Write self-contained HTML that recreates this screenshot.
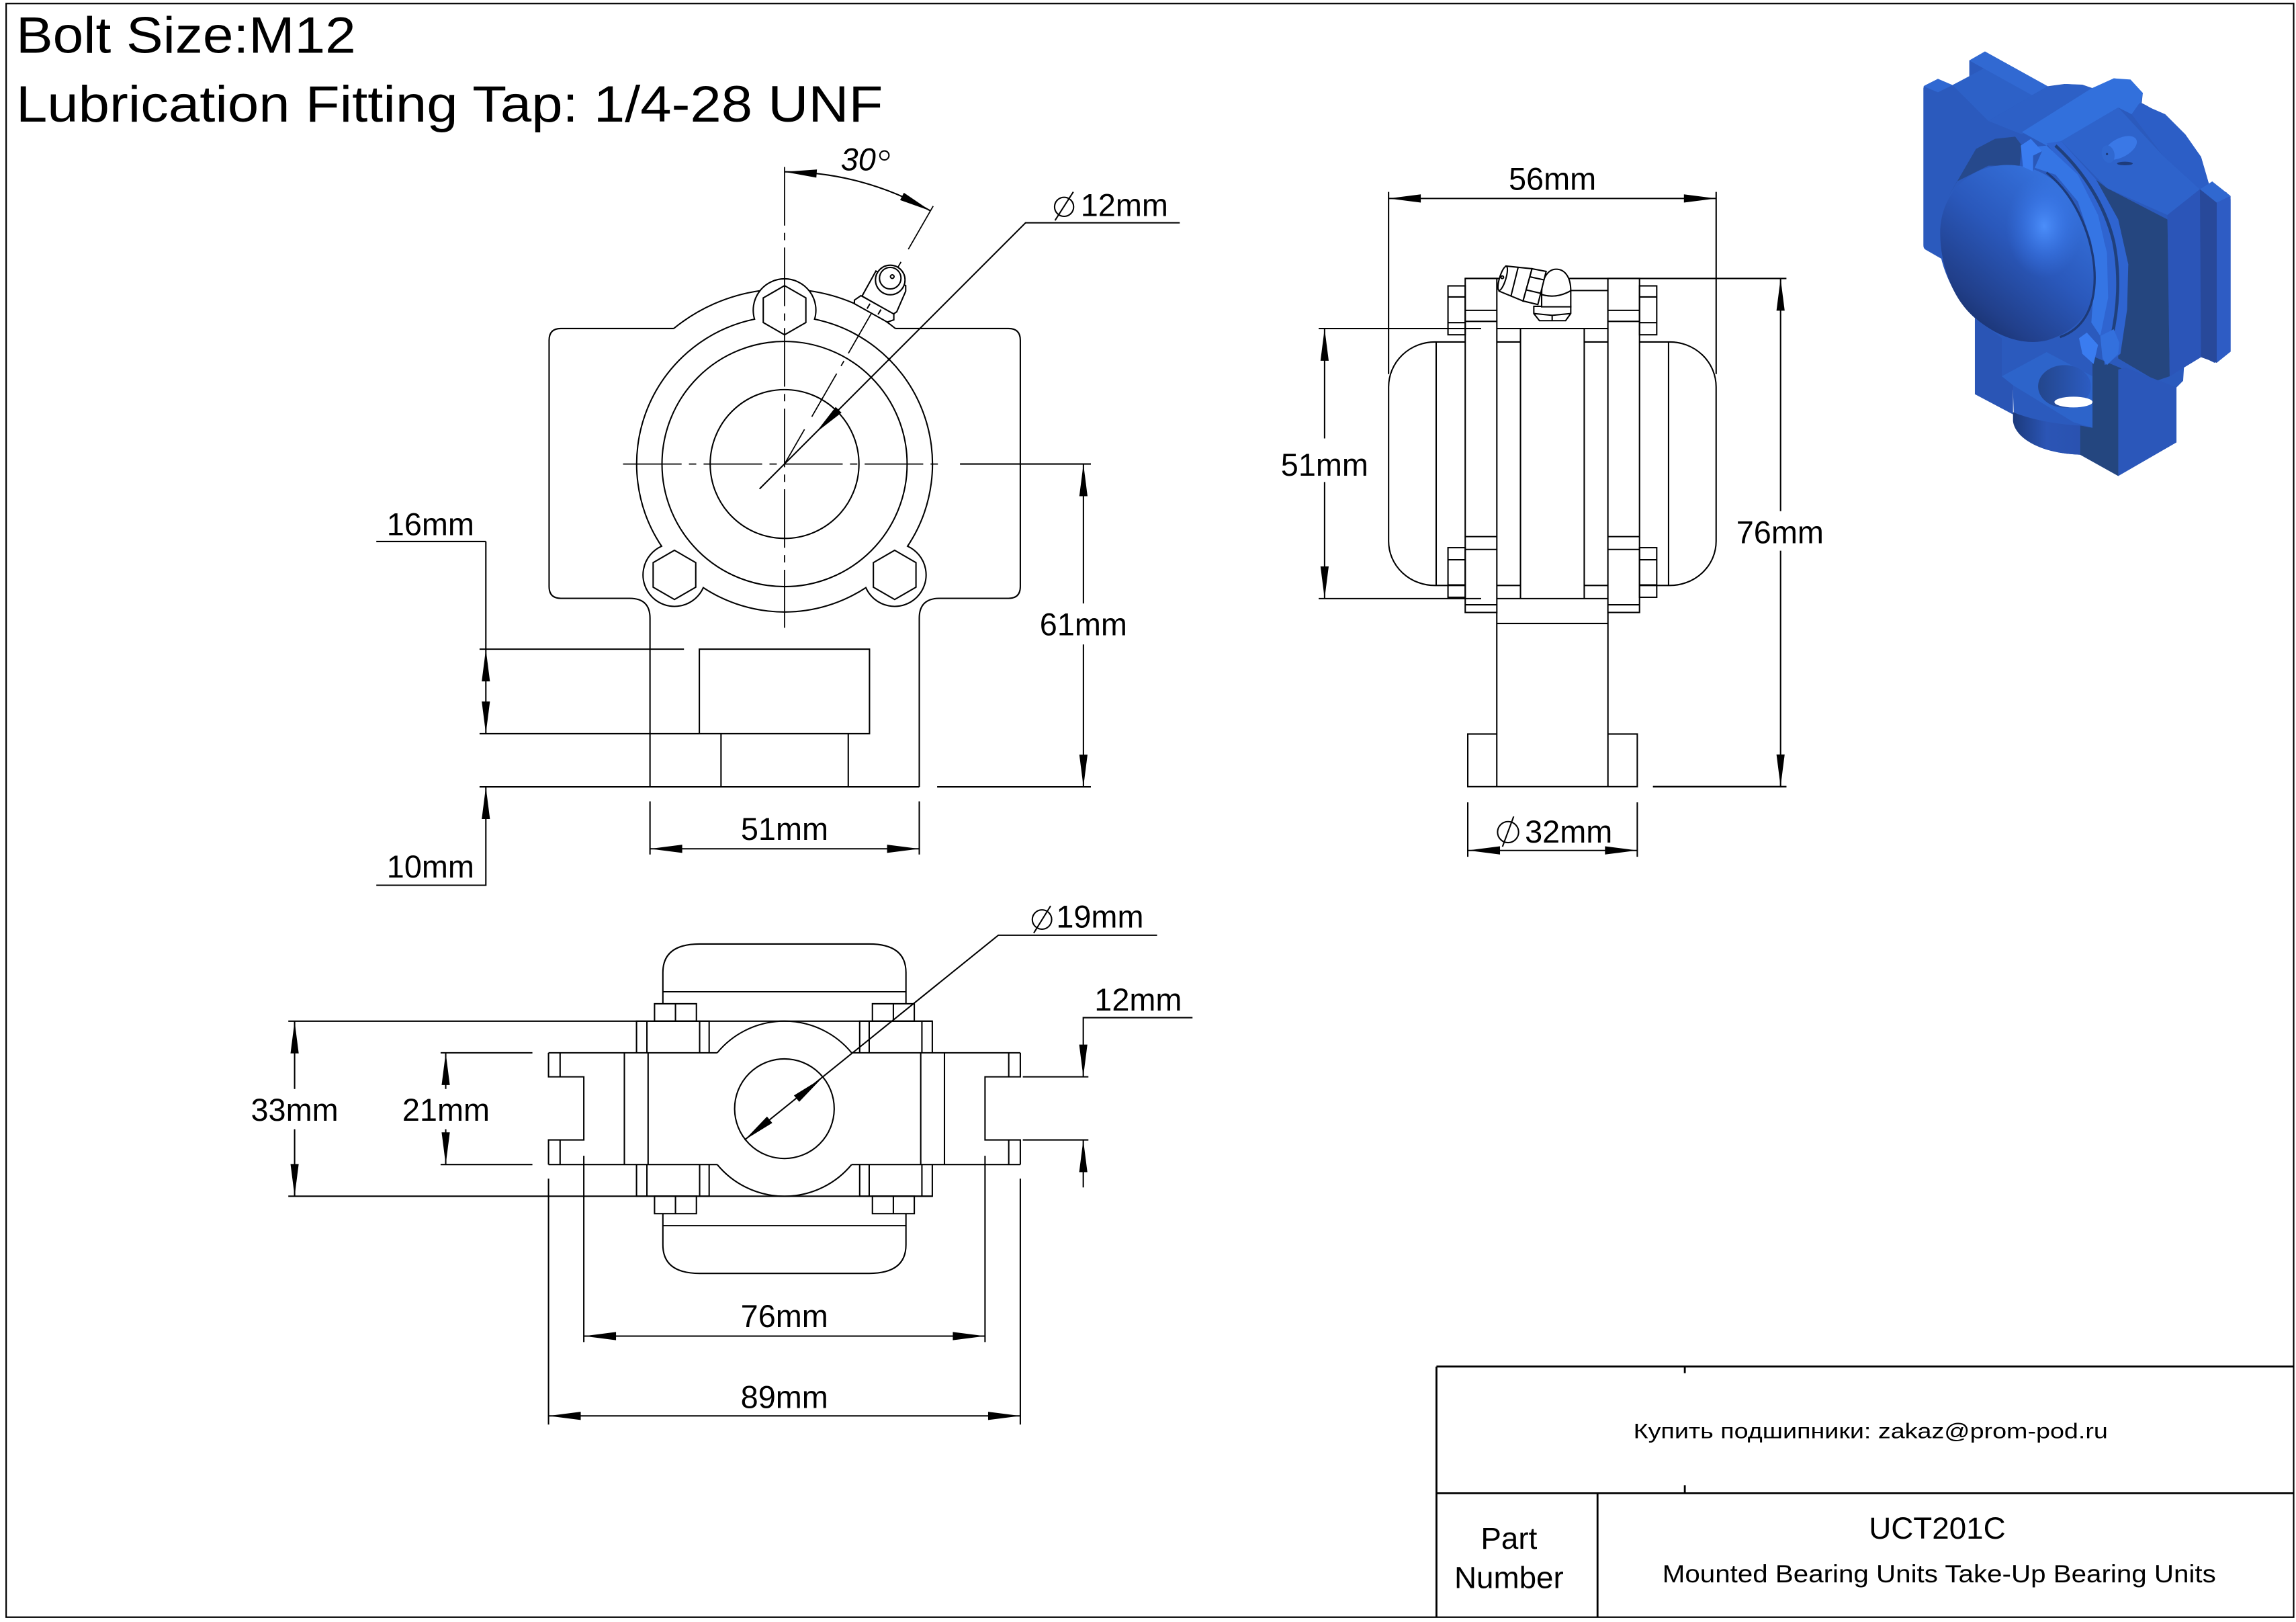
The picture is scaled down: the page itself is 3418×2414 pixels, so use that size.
<!DOCTYPE html>
<html><head><meta charset="utf-8">
<style>
html,body{margin:0;padding:0;background:#fff;}
svg{display:block;}
text{font-family:"Liberation Sans",Arial,sans-serif;fill:#000;stroke:none;}
</style></head>
<body>
<svg xmlns="http://www.w3.org/2000/svg" width="3418" height="2414" viewBox="0 0 1568 1107.4">
<defs>
<linearGradient id="capl" x1="0.85" y1="0.1" x2="0.2" y2="1">
<stop offset="0" stop-color="#3674e0"/><stop offset="0.45" stop-color="#2a58bb"/><stop offset="0.8" stop-color="#213f8a"/><stop offset="1" stop-color="#162d64"/>
</linearGradient>
<radialGradient id="caph" cx="0.5" cy="0.5" r="0.5">
<stop offset="0" stop-color="#4f93ff" stop-opacity="0.9"/><stop offset="0.6" stop-color="#3f80f5" stop-opacity="0.35"/><stop offset="1" stop-color="#3a78e8" stop-opacity="0"/>
</radialGradient>
<linearGradient id="cyl" x1="0" y1="0" x2="1" y2="0">
<stop offset="0" stop-color="#1c3a7c"/><stop offset="0.5" stop-color="#2b55b5"/><stop offset="1" stop-color="#2a52b0"/>
</linearGradient>
<linearGradient id="holeg" x1="0" y1="0" x2="1" y2="0">
<stop offset="0" stop-color="#23468c"/><stop offset="1" stop-color="#2c5cc2"/>
</linearGradient>
</defs>
<rect width="1568" height="1107.4" fill="#fff"/>

<g fill="none" stroke="#000" stroke-width="0.95">
<rect x="4.2" y="2.4" width="1562.2" height="1101.7" stroke-width="1"/>
<path d="M981,933 H1566.4 M981,1019.5 H1566.4 M981,933 V1104 M1091,1019.5 V1104 M1150.6,933 V937.5 M1150.6,1014 V1019.5" stroke-width="1.3"/>

<!-- ===== FRONT VIEW ===== -->
<path d="M460.1,224.3 H383 Q375,224.3 375,232.3 V400.5 Q375,408.5 383,408.5 H430 Q443.9,408.5 443.9,422 V537.2"/>
<path d="M611.5,224.3 H688.8 Q696.8,224.3 696.8,232.3 V400.5 Q696.8,408.5 688.8,408.5 H641.7 Q627.8,408.5 627.8,422 V537.2"/>
<path d="M327.5,537.2 H627.8 M640,537.2 H745"/>
<rect x="477.6" y="443.2" width="116.2" height="57.7"/>
<path d="M492.4,500.9 V537.2 M579.3,500.9 V537.2"/>
<path d="M460.1,224.3 A119.5,119.5 0 0 1 518.9,198.5 M552.7,198.5 A119.5,119.5 0 0 1 611.5,224.3"/>
<path d="M556.3,217.9 A101,101 0 0 1 619.8,372.9 A21.5,21.5 0 1 1 591.3,401.2 A101,101 0 0 1 480.3,401.2 A21.5,21.5 0 1 1 451.8,372.9 A101,101 0 0 1 515.3,217.9 A21.4,21.4 0 1 1 556.3,217.9 Z"/>
<circle cx="535.8" cy="316.8" r="83.7"/>
<circle cx="535.8" cy="316.8" r="50.8"/>
<polygon points="535.8,195 550.35,203.4 550.35,220.2 535.8,228.6 521.25,220.2 521.25,203.4"/>
<polygon points="460.6,375.7 475.15,384.1 475.15,400.9 460.6,409.3 446.05,400.9 446.05,384.1"/>
<polygon points="611,375.7 625.55,384.1 625.55,400.9 611,409.3 596.45,400.9 596.45,384.1"/>
<path d="M425.5,316.8 H643.5" stroke-width="0.8" stroke-dasharray="40 5 5 5"/>
<path d="M535.8,114 V428.6" stroke-width="0.8" stroke-dasharray="40 5 5 5"/>
<path d="M637.3,140.7 L535.8,316.8" stroke-width="0.8" stroke-dasharray="34 10 72 6 4 6"/>
<path d="M535.8,117.3 A199.5,199.5 0 0 1 635.55,144"/>
<path d="M805.7,152.1 H700.4 L518.7,333.8"/>
<path d="M327.5,443.2 H467.1 M327.5,500.9 H477.6 M331.8,369.7 V500.9 M257,369.7 H331.8"/>
<path d="M331.8,537.2 V604.4 H257"/>
<path d="M443.9,547.1 V583.4 M627.8,547.1 V583.4 M443.9,579.5 H627.8"/>
<path d="M739.9,316.8 V412 M739.9,440 V537.2 M655.6,316.8 H745"/>
<circle cx="726.7" cy="141.2" r="6.5"/>
<path d="M720.5,150.5 L733,131"/>
<circle cx="604" cy="106.1" r="3.1"/>

<!-- ===== SIDE VIEW ===== -->
<g transform="translate(871.6,160.6) scale(0.17556)" stroke-width="5.4">
<rect x="735" y="168" width="123" height="1299"/>
<rect x="1290" y="168" width="123" height="1299"/>
<path d="M735,292 H858 M735,335 H858 M735,1172 H858 M735,1222 H858 M735,1437 H858"/>
<path d="M1290,292 H1413 M1290,335 H1413 M1290,1172 H1413 M1290,1222 H1413 M1290,1437 H1413"/>
<rect x="668" y="197" width="67" height="190"/>
<path d="M668,240 H735 M668,340 H735"/>
<rect x="668" y="1215" width="67" height="193"/>
<path d="M668,1262 H735 M668,1360 H735"/>
<rect x="1413" y="197" width="67" height="190"/>
<path d="M1413,240 H1480 M1413,340 H1480"/>
<rect x="1413" y="1215" width="67" height="193"/>
<path d="M1413,1262 H1480 M1413,1360 H1480"/>
<path d="M858,363 H1290 M950,363 V1413 M1198,363 V1413 M858,415 H950 M1198,415 H1290 M858,1362 H950 M1198,1362 H1290 M858,1413 H1290 M858,1510 H1290 M1145,215 H1290"/>
<path d="M735,415 H620 A180,175 0 0 0 437,590 V1190 A180,172 0 0 0 620,1362 H735"/>
<path d="M622,415 V1362"/>
<path d="M1413,415 H1528 A180,175 0 0 1 1711,590 V1190 A180,172 0 0 1 1528,1362 H1413"/>
<path d="M1526,415 V1362"/>
<path d="M165,363 H797 M165,1413 H797"/>
</g>
<path d="M1000.6,190.1 H1220 M1022.2,418.2 V537.1 M1098.1,418.2 V537.1"/>
<g transform="translate(940.45,412.9) scale(0.15292)" stroke-width="6.2">
<path d="M535,577 H405 V812 H1162 V577 H1030"/>
<path d="M1232,812 H1828"/>
<path d="M405,882 V1125 M1162,882 V1125 M405,1097 H1162"/>
<circle cx="585" cy="1015" r="47"/>
<path d="M560,1080 L610,945"/>
</g>
<g transform="translate(990.9,169.7) scale(0.15292)" stroke-width="6.2" fill="#fff">
<path d="M370,258 V290 L395,322 H512 L535,290 V258 Z"/>
<path d="M370,290 L452,298 L535,290 M452,298 V322" fill="none"/>
<path d="M405,260 V205 Q470,225 535,188 V260 Z"/>
<path d="M405,205 C405,120 440,92 470,92 C510,92 535,130 535,188 Q470,225 405,205 Z"/>
<path d="M245,78 L362,90 L322,234 L215,190 Z"/>
<path d="M300,84 L268,212" fill="none"/>
<path d="M362,90 L425,102 L388,250 L322,234 Z"/>
<path d="M416,140 L352,126 M402,200 L338,185" fill="none"/>
<ellipse cx="231" cy="133" rx="14" ry="56" transform="rotate(17 231 133)"/>
<circle cx="229" cy="128" r="6"/>
</g>
<path d="M948.3,135.5 H1172 M948.3,131 V255.4 M1172,131 V255.4"/>
<path d="M1216,190.1 V349 M1216,376 V537.1 M1128.9,537.1 H1220"/>
<path d="M904.6,224.3 V299.3 M904.6,329.1 V408.7"/>

<g transform="translate(504.6,87.16) scale(0.15292)" stroke-width="6.2" fill="#fff">
<polygon points="550,752 612,640 745,705 745,730 705,822 690,832"/>
<polygon points="516,770 545,750 692,832 692,858 663,868 516,786"/>
<path d="M572.5,808 L585.5,786 M621.5,834 L634.5,812" fill="none"/>
<circle cx="676" cy="680" r="66"/>
<circle cx="676" cy="672" r="48"/>
<circle cx="685" cy="665" r="8"/>
</g>

<!-- ===== BOTTOM VIEW ===== -->
<path d="M374.6,718.8 H489.8 M581.6,718.8 H696.8 M374.6,795.1 H489.8 M581.6,795.1 H696.8"/>
<path d="M374.6,718.8 V735.2 H398.7 V778.3 H374.6 V795.1"/>
<path d="M382.5,718.8 V735.2 M382.5,778.3 V795.1"/>
<path d="M696.8,718.8 V735.2 H672.7 V778.3 H696.8 V795.1"/>
<path d="M688.9,718.8 V735.2 M688.9,778.3 V795.1"/>
<path d="M426.4,718.8 V795.1 M442.6,718.8 V795.1 M628.8,718.8 V795.1 M645,718.8 V795.1"/>
<path d="M434.7,718.8 V697.2 H484.3 V718.8 M441.8,697.2 V718.8 M477.8,697.2 V718.8"/>
<path d="M587.1,718.8 V697.2 H636.7 V718.8 M593.6,697.2 V718.8 M629.6,697.2 V718.8"/>
<path d="M434.7,795.1 V816.7 H484.3 V795.1 M441.8,795.1 V816.7 M477.8,795.1 V816.7"/>
<path d="M587.1,795.1 V816.7 H636.7 V795.1 M593.6,795.1 V816.7 M629.6,795.1 V816.7"/>
<path d="M489.8,718.8 A59.5,59.5 0 0 1 581.6,718.8 M489.8,795.1 A59.5,59.5 0 0 0 581.6,795.1"/>
<circle cx="535.7" cy="756.95" r="34"/>
<rect x="447" y="685.3" width="28.6" height="11.9"/>
<rect x="595.8" y="685.3" width="28.6" height="11.9"/>
<rect x="447" y="816.7" width="28.6" height="11.9"/>
<rect x="595.8" y="816.7" width="28.6" height="11.9"/>
<path d="M461.3,685.3 V697.2 M610.1,685.3 V697.2 M461.3,816.7 V828.6 M610.1,816.7 V828.6"/>
<path d="M452.7,685.3 V664 Q452.7,644.5 477.8,644.5 H593.6 Q618.7,644.5 618.7,664 V685.3 M452.7,677.1 H618.7"/>
<path d="M452.7,828.6 V849.9 Q452.7,869.4 477.8,869.4 H593.6 Q618.7,869.4 618.7,849.9 V828.6 M452.7,836.8 H618.7"/>
<path d="M196.9,697.2 H636.7 M196.9,816.7 H636.7 M201.2,697.2 V743.5 M201.2,771 V816.7"/>
<path d="M300.9,718.8 H363.6 M300.9,795.1 H363.6 M304.4,718.8 V743.5 M304.4,771 V795.1"/>
<path d="M814.4,694.8 H739.8 V735.2 M698.5,735.2 H743.3 M698.5,778.3 H743.3 M739.8,778.3 V810.7"/>
<path d="M398.7,789.1 V916.3 M672.7,789.1 V916.3 M398.7,912.2 H672.7"/>
<path d="M374.6,804.7 V972.6 M696.8,804.7 V972.6 M374.6,966.7 H696.8"/>
<path d="M790.2,638.5 H681.8 L508.5,778.3"/>
<circle cx="711.6" cy="627.8" r="6.6"/>
<path d="M706,637 L717.5,618.5"/>
</g>

<g fill="#000" stroke="none">
<polygon points="535.8,117.3 557.9,115.7 557.5,121.3"/>
<polygon points="635.55,144 614.7,136.6 617.3,131.6"/>
<polygon points="557.1,295.4 574.7,281.8 570.7,277.8"/>
<polygon points="331.8,443.2 329,465.2 334.6,465.2"/>
<polygon points="331.8,500.9 329,478.9 334.6,478.9"/>
<polygon points="331.8,537.2 329,559.2 334.6,559.2"/>
<polygon points="443.9,579.5 465.9,576.7 465.9,582.3"/>
<polygon points="627.8,579.5 605.8,576.7 605.8,582.3"/>
<polygon points="739.9,316.8 737.1,338.8 742.7,338.8"/>
<polygon points="739.9,537.2 737.1,515.2 742.7,515.2"/>
<polygon points="948.3,135.5 970.3,132.7 970.3,138.3"/>
<polygon points="1172,135.5 1150,132.7 1150,138.3"/>
<polygon points="1216,190.1 1213.2,212.1 1218.8,212.1"/>
<polygon points="1216,537.1 1213.2,515.1 1218.8,515.1"/>
<polygon points="904.6,224.3 901.8,246.3 907.4,246.3"/>
<polygon points="904.6,408.7 901.8,386.7 907.4,386.7"/>
<polygon points="1002.4,580.6 1024.4,577.8 1024.4,583.4"/>
<polygon points="1118.1,580.6 1096.1,577.8 1096.1,583.4"/>
<polygon points="201.2,697.2 198.4,719.2 204,719.2"/>
<polygon points="201.2,816.7 198.4,794.7 204,794.7"/>
<polygon points="304.4,718.8 301.6,740.8 307.2,740.8"/>
<polygon points="304.4,795.1 301.6,773.1 307.2,773.1"/>
<polygon points="739.8,735.2 737,713.2 742.6,713.2"/>
<polygon points="739.8,778.3 737,800.3 742.6,800.3"/>
<polygon points="398.7,912.2 420.7,909.4 420.7,915"/>
<polygon points="672.7,912.2 650.7,909.4 650.7,915"/>
<polygon points="374.6,966.7 396.6,963.9 396.6,969.5"/>
<polygon points="696.8,966.7 674.8,963.9 674.8,969.5"/>
<polygon points="561.1,736.3 545.8,752.3 542.2,747.9"/>
<polygon points="508.5,778.3 527.4,766.7 523.8,762.3"/>
</g>

<!-- ===== 3D VIEW ===== -->
<g transform="translate(1312,27.52) scale(0.15292)" stroke="none">
<path fill="#2b5abd" d="M10,215 Q10,205 20,200 L75,172 L140,200 L215,162 L215,90 L285,50 L565,205 L640,195 L720,198 L790,222 L860,170 L935,178 L990,235 L985,280 C1090,330 1180,420 1250,520 L1285,640 L1365,680 L1382,710 L1382,1390 L1310,1440 L1250,1410 L1175,1440 L1170,1520 L1140,1550 L1140,1795 L880,1945 L710,1850 C560,1845 450,1800 415,1710 L410,1560 L240,1580 L240,1240 C170,1180 110,1060 90,975 L20,935 Q10,930 10,915 Z"/>
<polygon fill="#3068d2" points="10,205 75,172 140,200 75,232"/>
<polygon fill="#2d61c7" points="140,200 290,120 560,210 300,360"/>
<polygon fill="#3169d2" points="215,90 285,50 565,205 495,245"/>
<polygon fill="#2d60c6" points="300,360 560,210 650,195 720,200 790,225 620,330 450,420"/>
<polygon fill="#26498c" points="245,485 330,440 420,430 450,470 440,560 300,560 160,630 120,700"/>
<polygon fill="#25467f" points="700,560 830,660 1100,800 1110,1500 1050,1520 880,1420 880,1330 910,1200 925,1000 880,800 780,620"/>
<polygon fill="#2e63cb" points="625,450 880,300 1080,515 1245,665 1100,780 830,660"/>
<polygon fill="#3270dc" points="450,410 760,215 860,170 935,175 990,235 975,300 940,330 880,300 625,450 560,470"/>
<polygon fill="#2c5ec6" points="975,280 1090,330 1180,420 1250,520 1285,640 1245,665 1080,515 940,330"/>
<polygon fill="#2b55b8" points="1100,780 1245,665 1250,1415 1110,1500"/>
<polygon fill="#3068d0" points="1245,665 1300,630 1382,695 1320,725"/>
<polygon fill="#28499a" points="1245,665 1320,725 1320,1440 1250,1415"/>
<polygon fill="#2e5cc4" points="1320,725 1382,695 1382,1390 1320,1440"/>
<polygon fill="#2a55b5" points="240.3,1240 360.3,1330 360.3,1500 410.3,1540 410.3,1670 240.3,1580"/>
<polygon fill="#2d64ca" points="360.3,1500 560.3,1392 765.3,1500 765.3,1730 680.3,1705 410.3,1540"/>
<path fill="url(#cyl)" d="M410.3,1660 L410.3,1700 C420,1780 540,1845 710,1850 L710,1720 C600,1715 480,1690 410.3,1660 Z"/>
<ellipse cx="640.3" cy="1545" rx="118" ry="95" fill="url(#holeg)"/>
<ellipse cx="680.3" cy="1615" rx="85" ry="24" fill="#fff"/>
<polygon fill="#24467f" points="765.3,1410 895.3,1465 880.3,1945 710.3,1850 710.3,1720 765.3,1730"/>
<polygon fill="#2b57ba" points="880.3,1470 910.3,1460 1140.3,1550 1140.3,1795 880.3,1945"/>
<polygon fill="#2f64d0" points="560,460 625,450 780,620 880,800 925,1000 920,1200 890,1400 820,1450 800,1300 830,1100 820,900 740,700"/>
<path fill="none" stroke="#20407c" stroke-width="14" d="M600,470 C720,580 820,730 860,900 C890,1050 880,1200 850,1330"/>
<polygon fill="#3575e4" points="470,480 560,470 700,600 790,780 830,950 835,1150 800,1320 760,1260 775,1050 760,900 700,720 600,600 480,560"/>
<path fill="url(#capl)" d="M85,860 C85,720 170,600 310,565 C420,540 540,570 620,650 C720,750 775,900 775,1060 C775,1200 700,1300 560,1340 C450,1365 330,1320 230,1230 C140,1150 85,1000 85,860 Z"/>
<ellipse cx="550" cy="830" rx="170" ry="230" fill="url(#caph)"/>
<path fill="none" stroke="#1d3a78" stroke-width="10" d="M560,590 C700,700 775,900 775,1060 C775,1200 720,1290 620,1325"/>
<polygon fill="#3a7cf0" points="445,470 490,440 540,495 500,585 455,565"/>
<polygon fill="#2a58b8" points="500,515 540,495 500,585"/>
<polygon fill="#3a7cf0" points="705,1330 740,1305 790,1360 770,1445 720,1400"/>
<polygon fill="#3370dd" points="800,1320 860,1290 885,1350 880,1400 830,1450 810,1420"/>
<ellipse cx="890" cy="480" rx="80" ry="42" transform="rotate(-28 890 480)" fill="#3a78e6"/>
<ellipse cx="835" cy="508" rx="28" ry="40" transform="rotate(-15 835 508)" fill="#3068d0"/>
<circle cx="830" cy="508" r="5" fill="#1e3c7c"/>
<ellipse cx="910" cy="550" rx="35" ry="8" fill="#1e3c7c"/>
</g>

<!-- ===== TEXT ===== -->
<text x="11" y="36" font-size="35" textLength="232" lengthAdjust="spacingAndGlyphs">Bolt Size:M12</text>
<text x="11" y="83" font-size="35" textLength="592" lengthAdjust="spacingAndGlyphs">Lubrication Fitting Tap: 1/4-28 UNF</text>

<g font-size="21.5" text-anchor="middle">
<text x="294" y="365.4">16mm</text>
<text x="294" y="599.2">10mm</text>
<text x="535.8" y="573.5">51mm</text>
<text x="739.9" y="433.7">61mm</text>
<text x="1060.2" y="129.5">56mm</text>
<text x="904.6" y="324.7">51mm</text>
<text x="1215.6" y="371">76mm</text>
<text x="201.2" y="765.1">33mm</text>
<text x="304.6" y="765.1">21mm</text>
<text x="777.3" y="690">12mm</text>
<text x="535.7" y="906">76mm</text>
<text x="535.7" y="961.4">89mm</text>
</g>
<g font-size="21.5">
<text x="738" y="147.4">12mm</text>
<text x="1041.4" y="575.3">32mm</text>
<text x="721.3" y="633.2">19mm</text>
<text x="574.2" y="116.2" font-style="italic">30</text>
</g>

<text x="1277.5" y="982" font-size="14.5" text-anchor="middle" textLength="324" lengthAdjust="spacingAndGlyphs">Купить подшипники: zakaz@prom-pod.ru</text>
<text x="1323" y="1050.5" font-size="21" text-anchor="middle">UCT201C</text>
<text x="1324.3" y="1080.4" font-size="17" text-anchor="middle" textLength="378" lengthAdjust="spacingAndGlyphs">Mounted Bearing Units Take-Up Bearing Units</text>
<text x="1030.5" y="1057.4" font-size="21" text-anchor="middle">Part</text>
<text x="1030.5" y="1084.2" font-size="21" text-anchor="middle">Number</text>
</svg>
</body></html>
